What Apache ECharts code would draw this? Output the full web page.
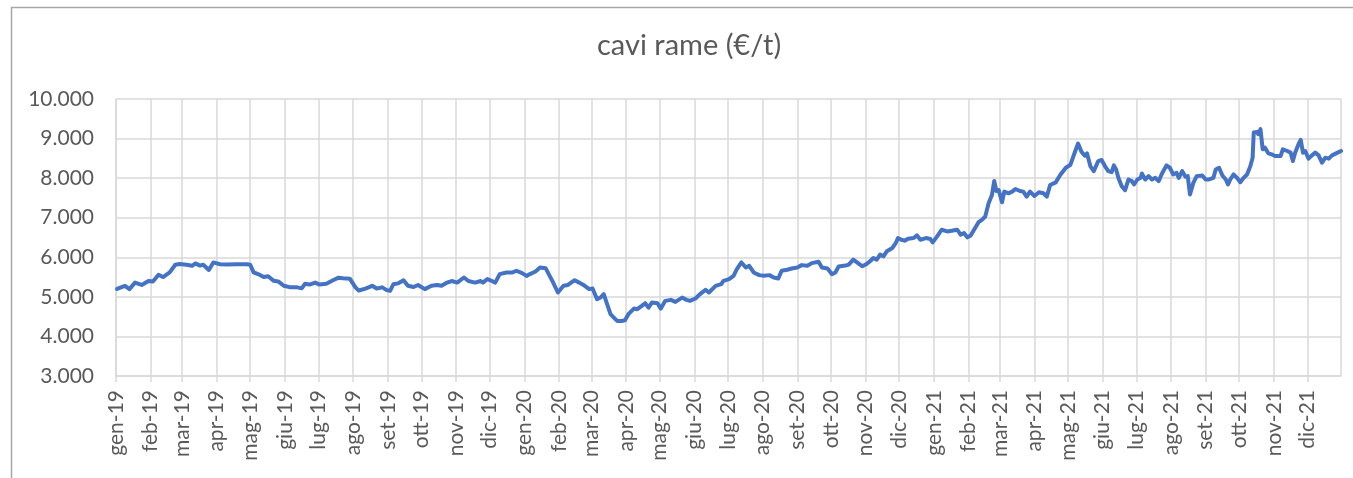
<!DOCTYPE html>
<html>
<head>
<meta charset="utf-8">
<title>cavi rame (€/t)</title>
<script src="https://cdn.jsdelivr.net/npm/echarts@6/dist/echarts.min.js"></script>
<style>
  html, body { margin: 0; padding: 0; background: #ffffff; }
  #chart { width: 1353px; height: 478px; }
</style>
</head>
<body>
<div id="chart"></div>
<script>
// Prezzo cavi in rame, €/t, quotazioni 2019-2021
const dates2019 = ['2019-01-02','2019-01-09','2019-01-13','2019-01-18','2019-01-24','2019-01-30','2019-02-03','2019-02-08','2019-02-12','2019-02-18','2019-02-23','2019-02-27','2019-03-05','2019-03-10','2019-03-13','2019-03-17','2019-03-20','2019-03-25','2019-03-29','2019-04-04','2019-04-10','2019-04-19','2019-04-28','2019-05-01','2019-05-04','2019-05-08','2019-05-13','2019-05-17','2019-05-22','2019-05-26','2019-05-31','2019-06-06','2019-06-12','2019-06-16','2019-06-19','2019-06-23','2019-06-28','2019-07-02','2019-07-08','2019-07-14','2019-07-19','2019-07-23','2019-07-29','2019-08-03','2019-08-06','2019-08-12','2019-08-18','2019-08-22','2019-08-27','2019-08-31','2019-09-03','2019-09-06','2019-09-10','2019-09-15','2019-09-19','2019-09-24','2019-09-28','2019-10-04','2019-10-10','2019-10-15','2019-10-19','2019-10-24','2019-10-28','2019-11-02','2019-11-08','2019-11-12','2019-11-18','2019-11-23','2019-11-25','2019-11-29','2019-12-03','2019-12-06','2019-12-10','2019-12-16','2019-12-21','2019-12-25','2019-12-30'];
const prices2019 = [5200,5280,5195,5360,5300,5400,5390,5560,5500,5620,5810,5830,5810,5785,5845,5790,5810,5680,5870,5825,5820,5825,5825,5810,5620,5575,5500,5520,5405,5390,5280,5240,5240,5215,5330,5310,5360,5310,5330,5420,5485,5470,5460,5240,5160,5210,5280,5210,5240,5170,5150,5320,5340,5420,5280,5250,5300,5195,5280,5300,5280,5360,5400,5360,5490,5400,5360,5400,5360,5450,5400,5360,5575,5615,5615,5660,5600];

const dates2020 = ['2020-01-03','2020-01-06','2020-01-11','2020-01-15','2020-01-20','2020-01-26','2020-01-31','2020-02-05','2020-02-09','2020-02-15','2020-02-19','2020-02-24','2020-02-28','2020-03-02','2020-03-06','2020-03-09','2020-03-12','2020-03-15','2020-03-18','2020-03-21','2020-03-24','2020-03-28','2020-03-31','2020-04-03','2020-04-08','2020-04-11','2020-04-15','2020-04-18','2020-04-21','2020-04-24','2020-04-29','2020-05-02','2020-05-06','2020-05-11','2020-05-15','2020-05-21','2020-05-25','2020-05-28','2020-06-02','2020-06-06','2020-06-11','2020-06-14','2020-06-20','2020-06-25','2020-06-27','2020-07-02','2020-07-06','2020-07-09','2020-07-13','2020-07-17','2020-07-20','2020-07-24','2020-07-29','2020-08-02','2020-08-07','2020-08-11','2020-08-15','2020-08-18','2020-08-23','2020-08-27','2020-09-01','2020-09-05','2020-09-10','2020-09-14','2020-09-20','2020-09-23','2020-09-28','2020-10-02','2020-10-05','2020-10-08','2020-10-14','2020-10-17','2020-10-21','2020-10-25','2020-10-29','2020-11-02','2020-11-05','2020-11-08','2020-11-11','2020-11-14','2020-11-17','2020-11-20','2020-11-25','2020-11-28','2020-11-30','2020-12-03','2020-12-06','2020-12-09','2020-12-14','2020-12-17','2020-12-20','2020-12-25','2020-12-29','2020-12-31'];
const prices2020 = [5530,5575,5640,5740,5725,5405,5110,5280,5300,5420,5360,5280,5195,5210,4940,4982,5068,4815,4562,4477,4392,4392,4409,4562,4704,4688,4772,4840,4730,4857,4840,4704,4899,4924,4873,4982,4924,4899,4958,5068,5177,5110,5278,5321,5405,5447,5532,5700,5869,5742,5785,5616,5549,5532,5549,5489,5464,5658,5684,5717,5742,5802,5785,5853,5886,5742,5717,5574,5616,5768,5790,5816,5941,5858,5773,5832,5899,5983,5941,6067,6025,6151,6235,6360,6486,6444,6419,6469,6486,6553,6444,6486,6461,6377];

const dates2021 = ['2021-01-04','2021-01-08','2021-01-13','2021-01-17','2021-01-22','2021-01-25','2021-01-28','2021-01-31','2021-02-03','2021-02-06','2021-02-10','2021-02-13','2021-02-16','2021-02-19','2021-02-22','2021-02-24','2021-02-26','2021-02-28','2021-03-03','2021-03-05','2021-03-09','2021-03-12','2021-03-15','2021-03-19','2021-03-22','2021-03-25','2021-03-28','2021-04-01','2021-04-05','2021-04-09','2021-04-12','2021-04-15','2021-04-20','2021-04-24','2021-04-29','2021-05-03','2021-05-07','2021-05-10','2021-05-13','2021-05-16','2021-05-18','2021-05-21','2021-05-24','2021-05-28','2021-05-31','2021-06-03','2021-06-06','2021-06-09','2021-06-11','2021-06-13','2021-06-15','2021-06-18','2021-06-21','2021-06-24','2021-06-27','2021-06-29','2021-07-02','2021-07-05','2021-07-06','2021-07-09','2021-07-12','2021-07-15','2021-07-18','2021-07-21','2021-07-24','2021-07-28','2021-07-31','2021-08-03','2021-08-06','2021-08-08','2021-08-11','2021-08-14','2021-08-16','2021-08-18','2021-08-21','2021-08-24','2021-08-29','2021-09-01','2021-09-04','2021-09-08','2021-09-10','2021-09-13','2021-09-16','2021-09-19','2021-09-21','2021-09-23','2021-09-26','2021-09-29','2021-10-02','2021-10-05','2021-10-08','2021-10-11','2021-10-13','2021-10-14','2021-10-17','2021-10-18','2021-10-20','2021-10-22','2021-10-24','2021-10-27','2021-10-30','2021-11-02','2021-11-07','2021-11-09','2021-11-13','2021-11-16','2021-11-18','2021-11-20','2021-11-23','2021-11-25','2021-11-27','2021-11-29','2021-12-02','2021-12-05','2021-12-08','2021-12-11','2021-12-14','2021-12-17','2021-12-20','2021-12-23','2021-12-28','2021-12-31'];
const prices2021 = [6528,6696,6654,6670,6696,6570,6612,6503,6553,6696,6888,6947,7031,7366,7575,7927,7676,7701,7391,7659,7617,7659,7726,7676,7659,7534,7659,7550,7642,7617,7534,7827,7894,8078,8263,8330,8648,8874,8665,8564,8623,8300,8178,8432,8458,8305,8178,8153,8322,8220,8008,7797,7695,7966,7924,7839,7966,8008,8119,7966,8051,7966,8008,7924,8119,8322,8263,8093,8136,8008,8178,8034,8051,7585,7881,8051,8068,7966,7966,8008,8220,8263,8068,7966,7839,7966,8093,8008,7898,8008,8093,8305,8517,9153,9170,9110,9237,8729,8771,8627,8602,8559,8559,8729,8686,8644,8432,8644,8856,8966,8644,8686,8492,8576,8644,8576,8390,8517,8492,8576,8644,8686];

// Etichette dei mesi per l'asse delle date
const monthNames = ['gen','feb','mar','apr','mag','giu','lug','ago','set','ott','nov','dic'];
// Valori dell'asse verticale
const yMin = 3000, yMax = 10000, yStep = 1000;

const dates = dates2019.concat(dates2020, dates2021);
const prices = prices2019.concat(prices2020, prices2021);
const seriesData = dates.map((d, i) => [d, prices[i]]);

const FONT = 'Lato, "Open Sans", sans-serif';
const TEXT = '#595959';
const GRID = '#d9d9d9';

const chart = echarts.init(document.getElementById('chart'), null, { renderer: 'canvas' });
chart.setOption({
  animation: false,
  backgroundColor: '#ffffff',
  graphic: [{
    type: 'rect',
    left: 9, top: 5,
    shape: { width: 1400, height: 520 },
    style: { fill: 'none', stroke: '#a6a6a6', lineWidth: 1.5 },
    silent: true, z: -1
  }, {
    type: 'text',
    left: 597, top: 31,
    style: {
      text: 'cavi rame (€/t)',
      font: 'normal 29px Lato, "Open Sans", sans-serif',
      fill: TEXT
    },
    silent: true
  }],
  grid: { left: 116, right: 12, top: 99, bottom: 102, containLabel: false },
  xAxis: {
    type: 'time',
    min: '2019-01-01',
    max: '2021-12-31',
    splitNumber: 36,
    minInterval: 28 * 86400000,
    maxInterval: 31 * 86400000,
    axisLine: { lineStyle: { color: GRID, width: 1.5 } },
    axisTick: { show: true, length: 6, lineStyle: { color: GRID, width: 1.5 } },
    splitLine: { show: true, lineStyle: { color: GRID, width: 1.5 } },
    axisLabel: {
      rotate: 90,
      margin: 14,
      color: TEXT,
      fontFamily: FONT,
      fontSize: 21,
      showMaxLabel: false,
      formatter: function (value) {
        const d = new Date(value);
        return monthNames[d.getMonth()] + '-' + String(d.getFullYear()).slice(2);
      }
    }
  },
  yAxis: {
    type: 'value',
    min: yMin, max: yMax, interval: yStep,
    axisLine: { show: false },
    axisTick: { show: false },
    splitLine: { lineStyle: { color: GRID, width: 1.5 } },
    axisLabel: {
      margin: 22,
      color: TEXT,
      fontFamily: FONT,
      fontSize: 21,
      formatter: function (v) { return v.toLocaleString('it-IT').replace(/\u00a0/g, '.'); }
    }
  },
  series: [{
    type: 'line',
    data: seriesData,
    showSymbol: false,
    smooth: false,
    lineStyle: { color: '#4472C4', width: 4, join: 'round', cap: 'round' },
    itemStyle: { color: '#4472C4' }
  }]
});
</script>
</body>
</html>
